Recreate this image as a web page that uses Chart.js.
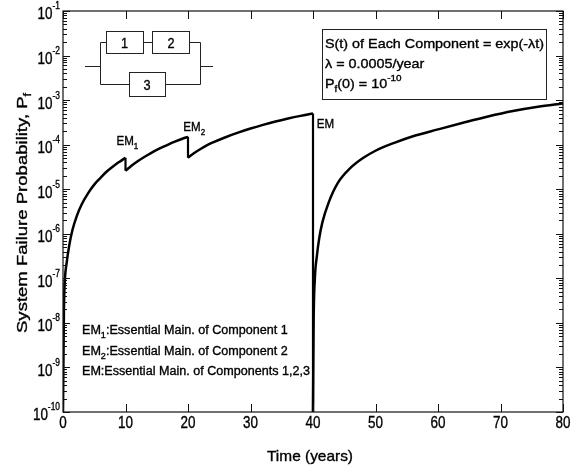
<!DOCTYPE html>
<html><head><meta charset="utf-8">
<script src="https://cdn.jsdelivr.net/npm/chart.js@4/dist/chart.umd.min.js"></script>
<style>html,body{margin:0;padding:0;background:#fff}#wrap{width:581px;height:466px}</style>
</head><body><div id="wrap"><canvas id="c" width="581" height="466"></canvas></div>
<script>
// ---- data ----
const xTicks = [0, 10, 20, 30, 40, 50, 60, 70, 80];
const yDecades = [-10, -9, -8, -7, -6, -5, -4, -3, -2, -1];

// segment 1: t = 0 .. 10 (until EM1)
const seg1T = [0, 0.15, 0.3, 0.6, 1, 1.5, 2.2, 3, 4, 5, 6, 7, 8, 9, 10];
const seg1P = [1e-10, 2e-8, 9e-8, 2.3e-7, 5.5e-7, 1.2e-6, 2.5e-6, 4.6e-6, 8.1e-6, 1.27e-5, 1.8e-5, 2.5e-5, 3.25e-5, 4.1e-5, 5.1e-5];
// segment 2: t = 10 .. 20 (EM1 -> EM2)
const seg2T = [10, 11, 12, 13, 14, 15, 16, 17, 18, 19, 20];
const seg2P = [2.6e-5, 3.4e-5, 4.3e-5, 5.3e-5, 6.4e-5, 7.6e-5, 8.9e-5, 1.03e-4, 1.18e-4, 1.34e-4, 1.5e-4];
// segment 3: t = 20 .. 40 (EM2 -> EM)
const seg3T = [20, 21, 22, 23, 24, 26, 28, 30, 32, 34, 36, 38, 40];
const seg3P = [5.1e-5, 6.5e-5, 8.0e-5, 9.6e-5, 1.12e-4, 1.47e-4, 1.86e-4, 2.3e-4, 2.78e-4, 3.3e-4, 3.86e-4, 4.43e-4, 5.0e-4];
// segment 4: t = 40 .. 80 (after EM)
const seg4T = [40, 40.1, 40.3, 40.6, 41, 41.5, 42.5, 44, 46, 48, 50, 53, 56, 60, 64, 68, 72, 76, 80];
const seg4P = [1e-10, 1e-8, 1e-7, 3e-7, 8e-7, 1.8e-6, 5e-6, 1.4e-5, 3.0e-5, 5e-5, 7.3e-5, 1.1e-4, 1.55e-4, 2.2e-4, 3.1e-4, 4.3e-4, 5.7e-4, 7.1e-4, 8.4e-4];

// ---- helpers ----
const FONT = '"Liberation Sans", Arial, Helvetica, sans-serif';
const pts = (T, P) => T.map((t, i) => ({x: t, y: P[i]}));
const segs = [[seg1T, seg1P], [seg2T, seg2P], [seg3T, seg3P], [seg4T, seg4P]];

function runsWidth(ctx, runs) {
  let w = 0;
  for (const r of runs) { ctx.font = r.s + 'px ' + FONT; w += ctx.measureText(r.t).width; }
  return w;
}
function drawRuns(ctx, runs, x, y, o = {}) {
  const w = runsWidth(ctx, runs);
  const sx = o.width ? o.width / w : (o.sx || 1);
  const total = w * sx;
  const startX = o.align === 'center' ? -total / 2 : o.align === 'right' ? -total : 0;
  ctx.save();
  ctx.translate(x, y);
  if (o.rot) ctx.rotate(o.rot);
  ctx.translate(startX, 0);
  ctx.scale(sx, 1);
  ctx.fillStyle = '#000';
  ctx.strokeStyle = '#000';
  ctx.lineWidth = 0.35;
  ctx.textAlign = 'left';
  ctx.textBaseline = 'alphabetic';
  let cx = 0;
  for (const r of runs) {
    ctx.font = r.s + 'px ' + FONT;
    ctx.fillText(r.t, cx, r.dy || 0);
    ctx.strokeText(r.t, cx, r.dy || 0);
    cx += ctx.measureText(r.t).width;
  }
  ctx.restore();
  return sx;
}

const datasets = [];
segs.forEach(([T, P]) => {
  datasets.push({data: pts(T, P), borderColor: '#000', borderWidth: 2.5, pointRadius: 0,
    fill: false, cubicInterpolationMode: 'monotone'});
});
// vertical drops at maintenance instants (end of one segment -> start of next)
for (let i = 0; i < segs.length - 1; i++) {
  const [Ta, Pa] = segs[i], [Tb, Pb] = segs[i + 1];
  datasets.push({data: [{x: Ta[Ta.length - 1], y: Pa[Pa.length - 1]}, {x: Tb[0], y: Pb[0]}],
    borderColor: '#000', borderWidth: 2.2, pointRadius: 0, fill: false, tension: 0});
}

const overlay = {
  id: 'overlay',
  afterDraw(chart) {
    const ctx = chart.ctx, a = chart.chartArea;
    const xs = chart.scales.x, ys = chart.scales.y;
    ctx.save();
    // frame
    ctx.strokeStyle = '#111'; ctx.lineWidth = 1.2;
    ctx.strokeRect(a.left, a.top, a.right - a.left, a.bottom - a.top);
    // x ticks (inward, bottom and top)
    ctx.lineWidth = 1;
    ctx.beginPath();
    xTicks.forEach(v => {
      const px = Math.round(xs.getPixelForValue(v)) + 0.5;
      ctx.moveTo(px, a.bottom); ctx.lineTo(px, a.bottom - 8);
      ctx.moveTo(px, a.top); ctx.lineTo(px, a.top + 8);
    });
    // y ticks (major + minor, inward, left and right)
    yDecades.forEach(d => {
      for (let k = 1; k <= 9; k++) {
        const v = k * Math.pow(10, d);
        if (v > 0.1000001) continue;
        const py = Math.round(ys.getPixelForValue(v)) + 0.5;
        const len = k === 1 ? 7 : 4;
        ctx.moveTo(a.left, py); ctx.lineTo(a.left + len, py);
        ctx.moveTo(a.right, py); ctx.lineTo(a.right - len, py);
      }
    });
    ctx.stroke();

    // tick labels
    yDecades.forEach(d => {
      const py = ys.getPixelForValue(Math.pow(10, d));
      drawRuns(ctx, [{t: '10', s: 16}, {t: String(d), s: 10, dy: -10}], 60, py + 8.4, {align: 'right', sx: 0.84});
    });
    xTicks.forEach(v => {
      drawRuns(ctx, [{t: String(v), s: 16}], xs.getPixelForValue(v), 428, {align: 'center', sx: 0.84});
    });
    // axis titles
    drawRuns(ctx, [{t: 'Time (years)', s: 15}], (a.left + a.right) / 2 - 3, 461, {align: 'center', width: 86});
    drawRuns(ctx, [{t: 'System Failure Probability, P', s: 15}, {t: 'f', s: 10, dy: 4}], 27, 213,
      {align: 'center', width: 240, rot: -Math.PI / 2});

    // reliability block diagram
    ctx.strokeStyle = '#222'; ctx.lineWidth = 1;
    ctx.strokeRect(106.5, 31.5, 37, 22);
    ctx.strokeRect(152.5, 31.5, 37, 22);
    ctx.strokeRect(129.5, 72.5, 36, 24);
    ctx.beginPath();
    ctx.moveTo(85, 66.5); ctx.lineTo(100.5, 66.5);
    ctx.moveTo(100.5, 42.5); ctx.lineTo(100.5, 84.5);
    ctx.moveTo(100.5, 42.5); ctx.lineTo(106.5, 42.5);
    ctx.moveTo(143.5, 42.5); ctx.lineTo(152.5, 42.5);
    ctx.moveTo(189.5, 42.5); ctx.lineTo(200.5, 42.5);
    ctx.moveTo(200.5, 42.5); ctx.lineTo(200.5, 84.5);
    ctx.moveTo(100.5, 84.5); ctx.lineTo(129.5, 84.5);
    ctx.moveTo(165.5, 84.5); ctx.lineTo(200.5, 84.5);
    ctx.moveTo(200.5, 66.5); ctx.lineTo(213, 66.5);
    ctx.stroke();
    drawRuns(ctx, [{t: '1', s: 15}], 124.5, 48, {align: 'center', sx: 0.85});
    drawRuns(ctx, [{t: '2', s: 15}], 171, 48, {align: 'center', sx: 0.85});
    drawRuns(ctx, [{t: '3', s: 15}], 147, 89.5, {align: 'center', sx: 0.85});

    // parameter box
    ctx.strokeStyle = '#222'; ctx.lineWidth = 1;
    ctx.strokeRect(322.5, 29.5, 224, 70);
    const bsx = drawRuns(ctx, [{t: 'S(t) of Each Component = exp(-\u03bbt)', s: 13}], 325, 48, {width: 219});
    drawRuns(ctx, [{t: '\u03bb = 0.0005/year', s: 13}], 325, 68, {sx: bsx});
    drawRuns(ctx, [{t: 'P', s: 13}, {t: 'f', s: 9, dy: 3.5}, {t: '(0) = 10', s: 13}, {t: '-10', s: 9, dy: -7}], 325, 88, {sx: bsx});

    // maintenance labels on the curve
    drawRuns(ctx, [{t: 'EM', s: 13}, {t: '1', s: 9, dy: 4}], 116.5, 144.5, {sx: 0.89});
    drawRuns(ctx, [{t: 'EM', s: 13}, {t: '2', s: 9, dy: 4}], 183.3, 131, {sx: 0.89});
    drawRuns(ctx, [{t: 'EM', s: 13}], 316.7, 127.5, {sx: 0.89});

    // bottom-left notes
    const l3 = [{t: 'EM:Essential Main. of Components 1,2,3', s: 12.5}];
    const lsx = 228 / runsWidth(ctx, l3);
    drawRuns(ctx, [{t: 'EM', s: 12.5}, {t: '1', s: 9, dy: 3.5}, {t: ':Essential Main. of Component 1', s: 12.5}], 82, 334, {sx: lsx});
    drawRuns(ctx, [{t: 'EM', s: 12.5}, {t: '2', s: 9, dy: 3.5}, {t: ':Essential Main. of Component 2', s: 12.5}], 82, 355, {sx: lsx});
    drawRuns(ctx, l3, 82, 375, {sx: lsx});
    ctx.restore();
  }
};

new Chart(document.getElementById('c'), {
  type: 'line',
  data: {datasets},
  options: {
    responsive: false,
    devicePixelRatio: 1,
    animation: false,
    layout: {padding: {left: 0, right: 18, top: 11, bottom: 0}},
    plugins: {legend: {display: false}, tooltip: {enabled: false}},
    scales: {
      x: {type: 'linear', min: 0, max: 80,
        ticks: {display: false, stepSize: 10},
        grid: {display: false, drawTicks: false}, border: {display: false},
        afterFit: s => { s.height = 54; }},
      y: {type: 'logarithmic', min: 1e-10, max: 1e-1,
        ticks: {display: false},
        grid: {display: false, drawTicks: false}, border: {display: false},
        afterFit: s => { s.width = 63; }}
    }
  },
  plugins: [overlay]
});
</script>
</body></html>
